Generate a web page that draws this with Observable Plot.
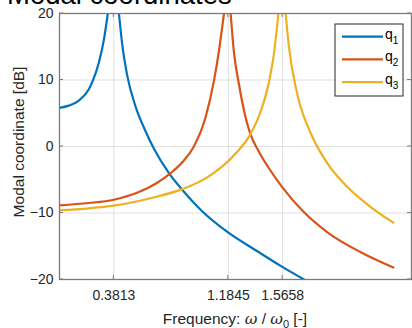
<!DOCTYPE html>
<html><head><meta charset="utf-8">
<script src="https://cdn.jsdelivr.net/npm/d3@7"></script>
<script src="https://cdn.jsdelivr.net/npm/@observablehq/plot@0.6"></script>
<style>body{margin:0;background:#fff;} svg{display:block;overflow:hidden}</style>
</head><body><div id="chart"></div>
<script>
const seriesNames = ["q1", "q2", "q3"];
const seriesColors = ["#0072BD", "#D95319", "#EDB120"];
const xTicks = [0.3813, 1.1845, 1.5658];
const yTicks = [-20, -10, 0, 10, 20];

// q1 (null marks the resonance, where the curve leaves the plot)
const q1Freq = [0, 0.065, 0.136, 0.206, 0.234, 0.276, 0.311, 0.339, 0.3813, 0.417, 0.440, 0.475, 0.534, 0.604, 0.662, 0.768, 0.861, 0.990, 1.178, 1.388, 1.552, 1.716];
const q1Db   = [5.8, 6.15, 6.9, 8.6, 9.9, 12.6, 16.0, 20, null, 20, 15.4, 10.7, 6.0, 2.3, -0.3, -4.0, -6.5, -9.5, -12.85, -15.75, -17.95, -20];
// q2
const q2Freq = [0, 0.206, 0.381, 0.557, 0.674, 0.780, 0.873, 0.94, 1.025, 1.084, 1.119, 1.154, 1.1845, 1.201, 1.224, 1.259, 1.300, 1.336, 1.388, 1.411, 1.458, 1.564, 1.716, 1.880, 2.114, 2.343];
const q2Db   = [-8.85, -8.5, -8.0, -6.85, -5.6, -4.0, -2.1, -0.1, 4.4, 9.9, 14.4, 20, null, 20, 14.2, 9.4, 4.9, 2.1, -0.35, -1.25, -2.9, -6.15, -9.9, -12.9, -15.9, -18.2];
// q3
const q3Freq = [0, 0.206, 0.381, 0.557, 0.674, 0.857, 1.025, 1.236, 1.341, 1.412, 1.470, 1.505, 1.536, 1.5658, 1.587, 1.610, 1.657, 1.681, 1.763, 1.880, 2.020, 2.184, 2.343];
const q3Db   = [-9.6, -9.3, -8.9, -8.2, -7.6, -6.45, -4.8, -1.05, 1.9, 5.3, 9.7, 14.0, 20, null, 20, 15.0, 9.0, 6.8, 2.0, -2.55, -6.1, -9.1, -11.45];

const rows = [];
[[q1Freq, q1Db, "q1"], [q2Freq, q2Db, "q2"], [q3Freq, q3Db, "q3"]].forEach(([f, d, s]) =>
  f.forEach((w, i) => rows.push({w, db: d[i], s})));

const font = "'Liberation Sans', Arial, Helvetica, sans-serif";
const fmt = d => d.toFixed(4);

const plot = Plot.plot({
  width: 412, height: 328,
  marginLeft: 59, marginRight: 1, marginTop: 13, marginBottom: 49,
  style: {fontFamily: font, fontSize: "14px", color: "#262626", background: "#fff"},
  x: {domain: [0, 2.47], label: null},
  y: {domain: [-20, 20], label: null},
  color: {domain: seriesNames, range: seriesColors},
  marks: [
    Plot.gridX(xTicks, {stroke: "#dfdfdf", strokeOpacity: 1}),
    Plot.gridY(yTicks, {stroke: "#dfdfdf", strokeOpacity: 1}),
    Plot.line(rows, {x: "w", y: "db", z: "s", stroke: "s", strokeWidth: 2.2, curve: "monotone-x", clip: true}),
    Plot.axisX(xTicks, {tickSize: 0, tickPadding: 11, tickFormat: fmt, fill: "#262626"}),
    Plot.axisY(yTicks, {tickSize: 0, tickPadding: 6, fill: "#262626"}),
    Plot.frame({stroke: "#7a7a7a", strokeWidth: 1.3})
  ]
});

const svg = d3.select(plot);
const xs = plot.scale("x"), ys = plot.scale("y");
const x0 = xs.range[0], x1 = xs.range[1];
const yB = ys.apply(-20), yT = ys.apply(20);
const tg = svg.append("g").attr("stroke", "#7a7a7a").attr("stroke-width", 1);
xTicks.forEach(t => {
  const px = xs.apply(t);
  tg.append("line").attr("x1", px).attr("x2", px).attr("y1", yB).attr("y2", yB - 4);
  tg.append("line").attr("x1", px).attr("x2", px).attr("y1", yT).attr("y2", yT + 4);
});
yTicks.forEach(t => {
  const py = ys.apply(t);
  tg.append("line").attr("x1", x0).attr("x2", x0 + 4).attr("y1", py).attr("y2", py);
  tg.append("line").attr("x1", x1).attr("x2", x1 - 4).attr("y1", py).attr("y2", py);
});

// title (cut off at the top, as in the reference)
svg.append("text").attr("x", 7).attr("y", 4).attr("text-anchor", "start")
  .style("font-size", "27.5px").attr("fill", "#000")
  .attr("font-family", font).text("Modal coordinates");

// y label
svg.append("text").attr("transform", `translate(24,${(yB + yT) / 2 - 4}) rotate(-90)`)
  .attr("text-anchor", "middle").style("font-size", "15.5px").attr("fill", "#262626")
  .attr("font-family", font).text("Modal coordinate [dB]");

// x label
const xl = svg.append("text").attr("x", (x0 + x1) / 2).attr("y", 324)
  .attr("text-anchor", "middle").style("font-size", "15.5px").attr("fill", "#262626").attr("font-family", font);
xl.append("tspan").text("Frequency: ");
xl.append("tspan").attr("font-family", "'DejaVu Serif', serif").attr("font-style", "italic").text("ω");
xl.append("tspan").text(" / ");
xl.append("tspan").attr("font-family", "'DejaVu Serif', serif").attr("font-style", "italic").text("ω");
xl.append("tspan").style("font-size", "11px").attr("dy", 4).text("0");
xl.append("tspan").attr("dy", -4).text(" [-]");

// legend
const lg = svg.append("g").attr("font-family", font).attr("text-anchor", "start");
lg.append("rect").attr("x", 335).attr("y", 24).attr("width", 68).attr("height", 72)
  .attr("fill", "#fff").attr("stroke", "#262626").attr("stroke-width", 1);
const legendLabels = ["1", "2", "3"];
seriesNames.forEach((s, i) => {
  const y = 36.7 + i * 22.7;
  lg.append("line").attr("x1", 342).attr("x2", 383).attr("y1", y).attr("y2", y)
    .attr("stroke", seriesColors[i]).attr("stroke-width", 2.2);
  const t = lg.append("text").attr("x", 385).attr("y", y + 2).attr("text-anchor", "start")
    .style("font-size", "14px").attr("fill", "#000");
  t.append("tspan").text("q");
  t.append("tspan").style("font-size", "10px").attr("dy", 5).text(legendLabels[i]);
});

document.getElementById("chart").append(plot);
</script>
</body></html>
